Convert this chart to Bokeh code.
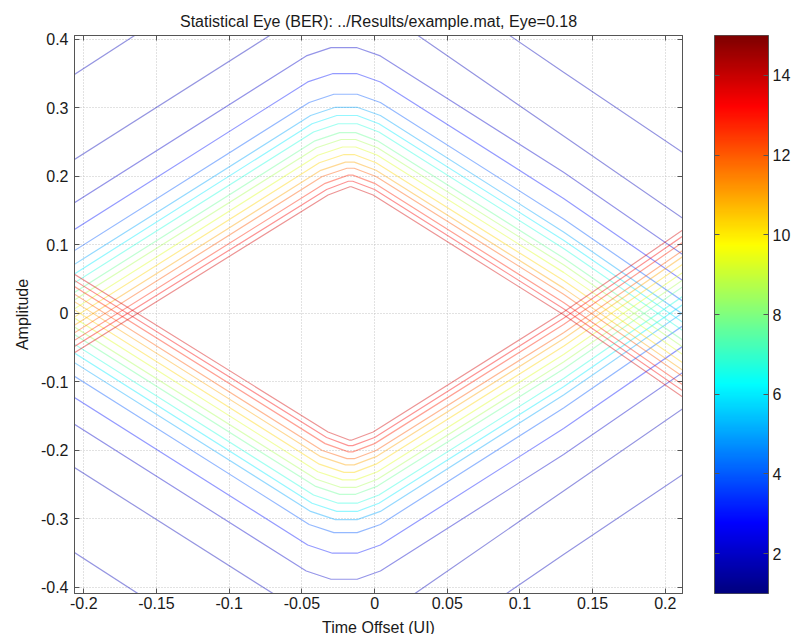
import numpy as np
from bokeh.plotting import figure
from bokeh.layouts import row
from bokeh.models import (ColumnDataSource, LinearColorMapper, FixedTicker, Range1d, LinearAxis)
from bokeh.transform import linear_cmap
from bokeh.embed import file_html
from bokeh.resources import INLINE

# ---------------- data ----------------
title_text = "Statistical Eye (BER): ../Results/example.mat, Eye=0.18"
x_label = "Time Offset (UI)"
y_label = "Amplitude"

x_ticks = [-0.2, -0.15, -0.1, -0.05, 0, 0.05, 0.1, 0.15, 0.2]
x_tick_labels = ["-0.2", "-0.15", "-0.1", "-0.05", "0", "0.05", "0.1", "0.15", "0.2"]
y_ticks = [-0.4, -0.3, -0.2, -0.1, 0, 0.1, 0.2, 0.3, 0.4]
y_tick_labels = ["-0.4", "-0.3", "-0.2", "-0.1", "0", "0.1", "0.2", "0.3", "0.4"]
cbar_ticks = [2, 4, 6, 8, 10, 12, 14]
cbar_low, cbar_high = 1, 15

# colour value of each contour (outermost -> innermost)
levels = [2.0, 3.0, 4.0, 5.0, 6.0, 6.7, 7.7, 8.6, 9.3, 10.3, 11.0, 12.0, 12.8, 13.3, 13.8]

# x positions of the contour vertices
edge_left_x = -0.207
cross_x = 0.13
edge_right_x = 0.212
shoulder_left_x = [-0.047, -0.046, -0.045, -0.044, -0.043, -0.042, -0.041, -0.040,
                   -0.039, -0.038, -0.037, -0.036, -0.034, -0.033, -0.032]
peak_x_start = [-0.030, -0.029, -0.028, -0.027, -0.026, -0.025, -0.024, -0.023,
                -0.022, -0.021, -0.020, -0.019, -0.018, -0.018, -0.017]
peak_x_end = [-0.012, -0.012, -0.012, -0.012, -0.012, -0.012, -0.013, -0.013,
              -0.013, -0.014, -0.014, -0.014, -0.015, -0.015, -0.016]
shoulder_right_x = [0.004, 0.004, 0.004, 0.004, 0.003, 0.003, 0.002, 0.002,
                    0.002, 0.001, 0.001, 0.001, 0.000, 0.000, -0.001]

# upper (inverted V) contours, one per level
upper_left_edge = [0.161, 0.122, 0.091, 0.071, 0.057, 0.044, 0.030, 0.019,
                   0.006, -0.006, -0.018, -0.029, -0.040, -0.049, -0.058]
upper_shoulder = [0.376, 0.338, 0.308, 0.289, 0.277, 0.265, 0.252, 0.242,
                  0.231, 0.220, 0.209, 0.200, 0.190, 0.181, 0.173]
upper_peak = [0.388, 0.350, 0.320, 0.301, 0.289, 0.277, 0.264, 0.254,
              0.243, 0.232, 0.221, 0.212, 0.202, 0.193, 0.185]
upper_at_cross = [0.206, 0.168, 0.138, 0.119, 0.107, 0.095, 0.081, 0.071,
                  0.060, 0.048, 0.037, 0.028, 0.016, 0.007, -0.002]
upper_right_edge = [0.086, 0.048, 0.018, -0.001, -0.013, -0.025, -0.039, -0.049,
                    -0.060, -0.072, -0.083, -0.092, -0.104, -0.113, -0.122]

# lower (V) contours, one per level
lower_left_edge = [-0.161, -0.122, -0.091, -0.071, -0.057, -0.044, -0.030, -0.019,
                   -0.006, 0.006, 0.018, 0.029, 0.040, 0.049, 0.058]
lower_shoulder = [-0.376, -0.338, -0.308, -0.289, -0.277, -0.265, -0.252, -0.242,
                  -0.231, -0.220, -0.209, -0.200, -0.190, -0.181, -0.173]
lower_trough = [-0.388, -0.350, -0.320, -0.301, -0.289, -0.277, -0.264, -0.254,
                -0.243, -0.232, -0.221, -0.212, -0.202, -0.193, -0.185]
lower_at_cross = [-0.206, -0.168, -0.138, -0.119, -0.107, -0.095, -0.081, -0.071,
                  -0.060, -0.048, -0.037, -0.028, -0.016, -0.007, 0.002]
lower_right_edge = [-0.086, -0.048, -0.018, 0.001, 0.013, 0.025, 0.039, 0.049,
                    0.060, 0.072, 0.083, 0.092, 0.104, 0.113, 0.122]

# outer contour pieces that leave the plot through the top / bottom
outer_xs = [[-0.210, -0.162], [-0.210, -0.069], [0.027, 0.13, 0.212], [0.090, 0.13, 0.212],
            [-0.210, -0.162], [-0.210, -0.069], [0.027, 0.13, 0.212], [0.090, 0.13, 0.212]]
outer_ys = [[0.344, 0.410], [0.220, 0.410], [0.410, 0.259, 0.139], [0.410, 0.352, 0.235],
            [-0.344, -0.410], [-0.220, -0.410], [-0.410, -0.259, -0.139], [-0.410, -0.352, -0.235]]
outer_levels = [1.8, 1.8, 1.8, 1.8, 1.8, 1.8, 1.8, 1.8]


# ---------------- jet colormap ----------------
def jet(n=256):
    cols = []
    for i in range(n):
        t = i / (n - 1)
        r = min(max(1.5 - abs(4 * t - 3), 0), 1)
        g = min(max(1.5 - abs(4 * t - 2), 0), 1)
        b = min(max(1.5 - abs(4 * t - 1), 0), 1)
        cols.append("#%02x%02x%02x" % (int(r * 255), int(g * 255), int(b * 255)))
    return cols


JET = jet()

xs, ys, lv = [], [], []
for a, b, k in zip(outer_xs, outer_ys, outer_levels):
    xs.append(a)
    ys.append(b)
    lv.append(k)
for i, k in enumerate(levels):
    cx = [edge_left_x, shoulder_left_x[i], peak_x_start[i], peak_x_end[i],
          shoulder_right_x[i], cross_x, edge_right_x]
    xs.append(cx)
    ys.append([upper_left_edge[i], upper_shoulder[i], upper_peak[i], upper_peak[i],
               upper_shoulder[i], upper_at_cross[i], upper_right_edge[i]])
    lv.append(k)
    xs.append(cx)
    ys.append([lower_left_edge[i], lower_shoulder[i], lower_trough[i], lower_trough[i],
               lower_shoulder[i], lower_at_cross[i], lower_right_edge[i]])
    lv.append(k)

src = ColumnDataSource(dict(xs=xs, ys=ys, level=lv))

FONT = "Liberation Sans"
TXT = "#1a1a1a"
AX = "#555555"

p = figure(frame_width=608, frame_height=558,
           x_range=Range1d(-0.2064, 0.2118), y_range=Range1d(-0.4088, 0.4058),
           output_backend="svg", toolbar_location=None,
           min_border_left=74, min_border_right=32, min_border_top=35, min_border_bottom=41,
           title=title_text)

p.multi_line(xs="xs", ys="ys", source=src,
             line_color=linear_cmap("level", JET, cbar_low, cbar_high),
             line_width=1.2, line_alpha=0.42)

p.title.align = "center"
p.title.text_font = FONT
p.title.text_font_size = "16px"
p.title.text_font_style = "normal"
p.title.text_color = TXT
p.title.standoff = 12

xax = p.below[0]
yax = p.left[0]
xax.ticker = FixedTicker(ticks=x_ticks)
yax.ticker = FixedTicker(ticks=y_ticks)
xax.major_label_overrides = {t: s for t, s in zip(x_ticks, x_tick_labels)}
yax.major_label_overrides = {t: s for t, s in zip(y_ticks, y_tick_labels)}
xax.axis_label = x_label
yax.axis_label = y_label

for ax in (xax, yax):
    ax.axis_label_text_font = FONT
    ax.axis_label_text_font_size = "16px"
    ax.axis_label_text_font_style = "normal"
    ax.axis_label_text_color = TXT
    ax.major_label_text_font = FONT
    ax.major_label_text_font_size = "16px"
    ax.major_label_text_color = TXT
    ax.major_tick_in = 5
    ax.major_tick_out = 0
    ax.minor_tick_line_color = None
    ax.axis_line_color = AX
    ax.major_tick_line_color = AX

xax.major_label_standoff = 3
xax.axis_label_standoff = 7
yax.major_label_standoff = 6
yax.axis_label_standoff = 7

p.grid.grid_line_color = "#c4c4c4"
p.grid.grid_line_dash = "1 2"
p.outline_line_color = AX
p.background_fill_color = "white"


def tick_only_axis(ticks):
    return LinearAxis(ticker=FixedTicker(ticks=ticks), major_label_text_color=None,
                      major_label_text_font_size="1px", major_label_standoff=0,
                      major_tick_in=5, major_tick_out=0, minor_tick_line_color=None,
                      axis_line_color=AX, major_tick_line_color=AX)


# mirror ticks on top and right, as in a MATLAB box
p.add_layout(tick_only_axis(x_ticks), "above")
p.add_layout(tick_only_axis(y_ticks), "right")

# ---------------- colour bar (its own axes, like MATLAB) ----------------
mapper = LinearColorMapper(palette=JET, low=cbar_low, high=cbar_high)
cb = figure(frame_width=54, frame_height=558,
            x_range=Range1d(0, 1), y_range=Range1d(cbar_low, cbar_high),
            output_backend="svg", toolbar_location=None,
            x_axis_location=None, y_axis_location="right",
            min_border_left=0, min_border_right=20, min_border_top=35, min_border_bottom=41)
grad = np.linspace(cbar_low, cbar_high, 256).reshape(256, 1)
cb.image(image=[grad], x=0, y=cbar_low, dw=1, dh=cbar_high - cbar_low, color_mapper=mapper)
cb.grid.visible = False
cb.outline_line_color = AX
cax = cb.right[0]
cax.ticker = FixedTicker(ticks=cbar_ticks)
cax.major_label_text_font = FONT
cax.major_label_text_font_size = "16px"
cax.major_label_text_color = TXT
cax.major_tick_in = 5
cax.major_tick_out = 0
cax.minor_tick_line_color = None
cax.axis_line_color = AX
cax.major_tick_line_color = AX
cax.major_label_standoff = 4
cb.add_layout(tick_only_axis(cbar_ticks), "left")

layout = row(p, cb)
open("out.html", "w").write(file_html(layout, INLINE))
